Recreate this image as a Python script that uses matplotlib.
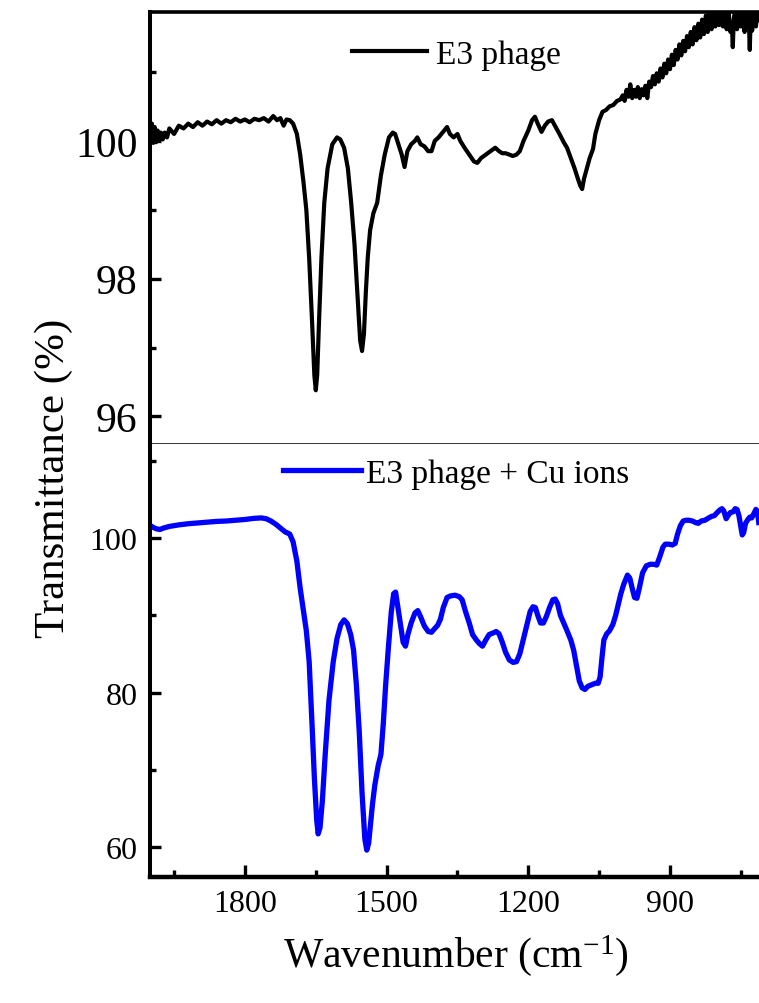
import matplotlib
matplotlib.use("Agg")
import matplotlib.pyplot as plt
from matplotlib.ticker import MultipleLocator

plt.rcParams["font.family"] = ["Liberation Serif", "DejaVu Serif"]
plt.rcParams["mathtext.fontset"] = "custom"
plt.rcParams["mathtext.rm"] = "Liberation Serif"
plt.rcParams["mathtext.it"] = "Liberation Serif:italic"

# ---- FTIR spectra: wavenumber (cm-1) and transmittance (%) ----
phage_wn = [2000, 1997, 1994, 1991, 1988, 1985, 1982, 1978, 1974, 1970, 1965, 1960,
            1950, 1940, 1930, 1920,
            1910, 1900, 1890, 1880, 1870, 1860, 1850, 1840, 1830, 1820, 1810, 1800,
            1790, 1780, 1770, 1760, 1750, 1740, 1732, 1725, 1718, 1712, 1705, 1698,
            1690, 1683, 1676, 1670, 1664, 1658, 1653, 1650, 1647, 1643, 1638, 1632,
            1625, 1615, 1605, 1598, 1590, 1582, 1575, 1568, 1562, 1556, 1552, 1548,
            1544, 1540, 1535, 1528, 1520, 1512, 1504, 1495, 1487, 1482, 1475, 1468,
            1462, 1456, 1448, 1440, 1435, 1428, 1420, 1412, 1405, 1398, 1390, 1384,
            1378, 1372, 1366, 1358, 1350, 1344, 1335, 1325, 1315, 1308, 1300, 1290,
            1280, 1270, 1262, 1255, 1248, 1240, 1233, 1225, 1218, 1210, 1200, 1192,
            1186, 1180, 1172, 1165, 1158, 1150, 1142, 1134, 1125, 1118, 1110, 1102,
            1095, 1090, 1086, 1082, 1076, 1070, 1063, 1058, 1050, 1043, 1035, 1028,
            1020, 1012, 1005,
            1000, 996, 992, 988, 984, 980, 976, 972, 968, 964,
            960, 956, 952, 948, 944, 940, 936, 932, 928, 924,
            920, 916, 912, 908, 904, 900, 896, 892, 888, 884,
            880, 876, 872, 868, 864, 860, 856, 852, 848, 844,
            840, 836, 832, 828, 824, 820, 816, 812, 808, 804,
            800, 796, 792, 788, 784, 780, 776, 772, 769, 767,
            765, 762, 758, 754, 750, 746, 742, 738, 735, 733,
            731, 729, 726, 722, 718, 715, 712]
phage_T = [100.05, 100.25, 99.97, 100.20, 99.98, 100.15, 100.00, 100.12, 100.02, 100.12, 100.05, 100.18,
           100.10, 100.22, 100.18, 100.25,
           100.20, 100.27, 100.22, 100.28, 100.24, 100.30, 100.25, 100.30, 100.27, 100.32, 100.28, 100.31,
           100.27, 100.32, 100.30, 100.33, 100.28, 100.36, 100.30, 100.33, 100.22, 100.31, 100.30, 100.25,
           100.10, 99.80, 99.40, 99.00, 98.30, 97.40, 96.60, 96.38, 96.60, 97.40, 98.30, 99.10,
           99.60, 99.95, 100.05, 100.02, 99.90, 99.60, 99.10, 98.50, 97.80, 97.10, 96.95, 97.20,
           97.80, 98.30, 98.70, 98.95, 99.10, 99.50, 99.80, 100.05, 100.12, 100.10, 99.95, 99.80,
           99.62, 99.85, 99.95, 100.00, 100.05, 99.95, 99.92, 99.85, 99.85, 100.00, 100.05, 100.10,
           100.15, 100.20, 100.10, 100.05, 100.10, 100.00, 99.90, 99.80, 99.70, 99.68, 99.75, 99.80,
           99.85, 99.90, 99.85, 99.82, 99.82, 99.80, 99.78, 99.80, 99.85, 100.00, 100.15, 100.30,
           100.35, 100.25, 100.13, 100.22, 100.28, 100.30, 100.20, 100.10, 99.98, 99.90, 99.75, 99.60,
           99.45, 99.35, 99.30, 99.45, 99.60, 99.75, 99.88, 100.10, 100.30, 100.42, 100.45, 100.50,
           100.52, 100.58, 100.60,
           100.66, 100.58, 100.74, 100.64, 100.82, 100.62, 100.74, 100.64, 100.78, 100.62,
           100.75, 100.66, 100.80, 100.62, 100.86, 100.78, 100.94, 100.82, 100.98, 100.86,
           101.05, 100.92, 101.12, 100.98, 101.18, 101.04, 101.25, 101.10, 101.32, 101.18,
           101.40, 101.24, 101.45, 101.30, 101.52, 101.36, 101.58, 101.40, 101.65, 101.46,
           101.70, 101.50, 101.76, 101.55, 101.82, 101.58, 101.88, 101.62, 101.92, 101.66,
           101.95, 101.68, 101.96, 101.66, 101.95, 101.62, 101.90, 101.58, 101.72, 101.36,
           101.75, 101.92, 101.62, 101.98, 101.66, 101.92, 101.58, 101.95, 101.65, 101.75,
           101.32, 101.85, 101.60, 101.95, 101.66, 101.92, 101.75]

cu_wn = [2000, 1995, 1988, 1980, 1972, 1960, 1940, 1920, 1900, 1880, 1860, 1840,
         1820, 1800, 1780, 1765, 1755, 1745, 1735, 1725, 1715, 1705, 1698, 1690,
         1683, 1676, 1670, 1664, 1658, 1653, 1648, 1645, 1641, 1636, 1630, 1622,
         1613, 1605, 1597, 1590, 1583, 1576, 1570, 1564, 1558, 1552, 1546, 1542,
         1538, 1534, 1530, 1525, 1518, 1512, 1507, 1502, 1496, 1490, 1485, 1481,
         1476, 1470, 1465, 1460, 1455, 1448, 1440, 1434, 1428, 1420, 1412, 1405,
         1398, 1392, 1386, 1380, 1372, 1365, 1355, 1346, 1340, 1333, 1325, 1318,
         1310, 1303, 1297, 1290, 1283, 1275, 1268, 1262, 1255, 1248, 1240, 1232,
         1225, 1218, 1210, 1203, 1196, 1190, 1185, 1180, 1174, 1168, 1162, 1155,
         1148, 1143, 1138, 1132, 1125, 1118, 1110, 1104, 1098, 1092, 1086, 1080,
         1074, 1066, 1058, 1052, 1048, 1044, 1040, 1034, 1028, 1021, 1015, 1010,
         1004, 998, 990, 985, 980, 975, 970, 965, 958, 950, 942, 935,
         928, 922, 915, 910, 902, 895, 889, 884, 878, 872, 866, 860,
         852, 846, 840, 834, 826, 818, 812, 806, 800, 795, 790, 786,
         781, 777, 772, 766, 762, 758, 754, 750, 747, 744, 740, 735,
         731, 727, 722, 718, 715, 712]
cu_T = [101.6, 101.4, 101.2, 101.1, 101.3, 101.5, 101.7, 101.85, 101.95, 102.05, 102.15, 102.2,
        102.3, 102.4, 102.55, 102.6, 102.5, 102.2, 101.8, 101.3, 100.8, 100.5, 99.5, 97.0,
        93.5, 90.5, 88.0, 84.0, 76.0, 69.0, 63.5, 61.7, 62.5, 66.0, 72.0, 79.0,
        84.0, 87.0, 88.8, 89.4, 88.9, 87.5, 85.5, 81.0, 75.0, 67.0, 61.0, 59.6,
        60.5, 63.0, 65.5, 68.0, 70.5, 72.0, 76.0, 81.0, 86.0, 90.5, 92.8, 93.0,
        91.0, 88.5, 86.5, 86.0, 87.5, 89.0, 90.3, 90.6, 89.8, 88.6, 87.9, 87.8,
        88.3, 88.7, 89.5, 91.0, 92.3, 92.5, 92.6, 92.4, 92.0, 90.5, 89.0, 87.5,
        86.8, 86.3, 86.0, 86.8, 87.5, 87.7, 87.9, 87.6, 86.5, 85.2, 84.2, 83.9,
        84.0, 85.0, 87.0, 88.8, 90.5, 91.1, 91.0, 90.0, 89.0, 89.0, 89.8, 91.0,
        92.0, 92.1, 91.5, 90.0, 89.0, 88.0, 86.8, 85.5, 83.5, 81.5, 80.6, 80.4,
        80.8, 81.0, 81.2, 81.2, 82.0, 84.5, 86.8, 87.6, 88.0, 88.8, 90.0, 91.3,
        92.8, 94.0, 95.2, 94.8, 93.5, 92.3, 92.2, 93.5, 95.5, 96.4, 96.6, 96.6,
        96.5, 97.5, 98.8, 99.2, 99.2, 99.1, 99.3, 100.5, 101.6, 102.2, 102.3, 102.3,
        102.2, 102.0, 101.9, 102.2, 102.3, 102.6, 102.8, 102.9, 103.3, 103.6, 103.8, 103.5,
        102.5, 102.9, 103.3, 103.4, 103.8, 103.7, 102.9, 101.5, 100.4, 100.7, 101.9, 102.4,
        102.7, 102.6, 103.2, 103.7, 103.5, 102.0]

phage_label = "E3 phage"
cu_label = "E3 phage + Cu ions"

# ---- figure geometry (pixels) ----
W, H, DPI = 759, 1004, 100
fig = plt.figure(figsize=(W / DPI, H / DPI), dpi=DPI)
fig.patch.set_facecolor("white")

left_px, right_px = 150, 759
top_px, mid_px, bot_px = 13, 445, 878

ax_top = fig.add_axes([left_px / W, 1 - mid_px / H, (right_px - left_px) / W, (mid_px - top_px) / H])
ax_bot = fig.add_axes([left_px / W, 1 - bot_px / H, (right_px - left_px) / W, (bot_px - mid_px) / H],
                      sharex=ax_top)

ax_top.plot(phage_wn, phage_T, color="black", lw=3.0, solid_joinstyle="round", label=phage_label)
ax_bot.plot(cu_wn, cu_T, color="#0000ff", lw=3.8, solid_joinstyle="round", label=cu_label)

ax_top.set_xlim(2001, 711.5)
ax_top.set_ylim(95.6, 101.87)
ax_bot.set_ylim(56.12, 112.17)

# spines
for ax in (ax_top, ax_bot):
    ax.spines["right"].set_visible(False)
    ax.spines["left"].set_linewidth(2.9)
ax_top.spines["top"].set_linewidth(2.6)
ax_top.spines["bottom"].set_linewidth(1.1)
ax_bot.spines["top"].set_visible(False)
ax_bot.spines["bottom"].set_linewidth(3.2)

# ticks
ax_bot.xaxis.set_major_locator(MultipleLocator(300))
ax_bot.xaxis.set_minor_locator(MultipleLocator(150))
ax_top.yaxis.set_major_locator(MultipleLocator(2))
ax_top.yaxis.set_minor_locator(MultipleLocator(1))
ax_bot.yaxis.set_major_locator(MultipleLocator(20))
ax_bot.yaxis.set_minor_locator(MultipleLocator(10))

ax_top.tick_params(axis="x", which="both", bottom=False, top=False, labelbottom=False)
ax_bot.tick_params(axis="x", which="both", top=False, direction="in")
ax_bot.tick_params(axis="x", which="major", length=8.5, width=2.4, pad=9, labelsize=23)
ax_bot.tick_params(axis="x", which="minor", length=5, width=2.4)
for ax, ls in ((ax_top, 30), (ax_bot, 23)):
    ax.tick_params(axis="y", which="both", right=False, direction="in")
    ax.tick_params(axis="y", which="major", length=8, width=2.4, pad=9, labelsize=ls)
    ax.tick_params(axis="y", which="minor", length=4, width=2.4)

# legends
ax_top.legend(loc="center left", bbox_to_anchor=(0.332, 0.902), frameon=False, fontsize=24,
              handlelength=2.25, handletextpad=0.25, borderpad=0, borderaxespad=0)
ax_bot.legend(loc="center left", bbox_to_anchor=(0.218, 0.931), frameon=False, fontsize=24,
              handlelength=2.35, handletextpad=0.15, borderpad=0, borderaxespad=0)

# axis titles
fig.text(54 / W, 1 - 478 / H, "Transmittance (%)", rotation=90, ha="center", va="center", fontsize=31)
fig.text(456 / W, 1 - 967 / H, r"Wavenumber (cm$^{\mathregular{-1}}$)", ha="center", va="baseline",
         fontsize=30)

fig.savefig("out.png", dpi=DPI, facecolor="white")
